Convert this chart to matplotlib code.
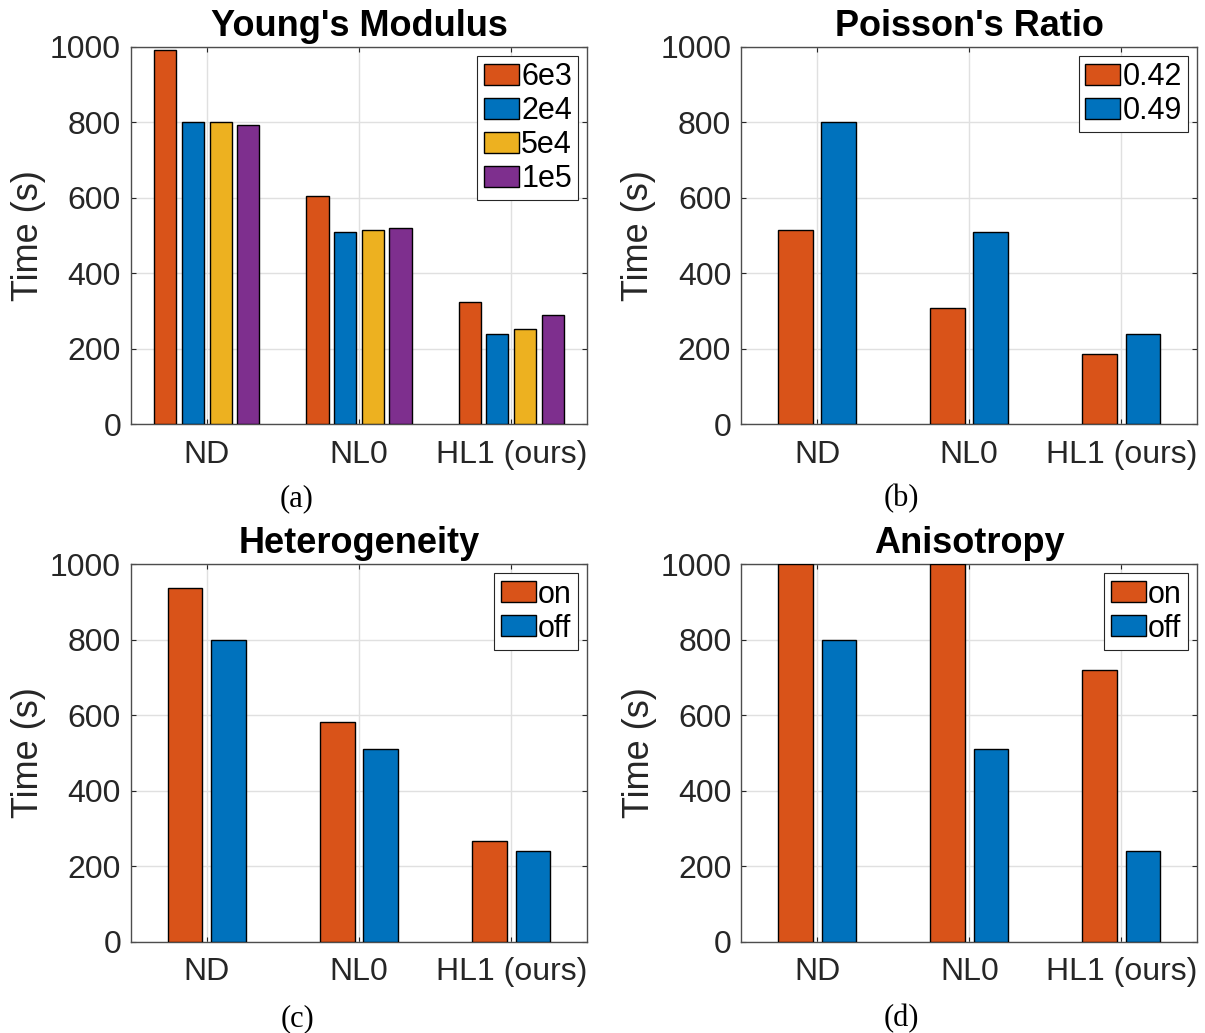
import matplotlib
matplotlib.use("Agg")
import matplotlib.pyplot as plt
import numpy as np

# Run times (s) per method, one list per setting
methods = ["ND", "NL0", "HL1 (ours)"]

youngs_labels = ["6e3", "2e4", "5e4", "1e5"]
youngs_times = [
    [990, 604, 325],
    [800, 510, 240],
    [800, 514, 253],
    [792, 521, 289],
]

poisson_labels = ["0.42", "0.49"]
poisson_times = [
    [515, 307, 185],
    [800, 510, 240],
]

hetero_labels = ["on", "off"]
hetero_times = [
    [938, 582, 267],
    [800, 510, 240],
]

# the first two "on" bars run past the top of the axis
aniso_labels = ["on", "off"]
aniso_times = [
    [1000, 1000, 721],
    [800, 510, 240],
]

# MATLAB default colour order
colors = ["#D95319", "#0072BD", "#EDB120", "#7E2F8E"]
text_color = "#262626"

plt.rcParams["font.family"] = ["Liberation Sans", "DejaVu Sans"]


def grouped_bar(ax, title, labels, series):
    """Draw a MATLAB-style grouped bar chart on ax."""
    x = np.arange(1, len(methods) + 1)
    n = len(series)
    group_width = min(0.8, n / (n + 1.5))
    step = group_width / n
    for i, (lab, vals) in enumerate(zip(labels, series)):
        offset = (i - (n - 1) / 2) * step
        ax.bar(x + offset, vals, width=step * 0.8, color=colors[i],
               edgecolor="black", linewidth=1.0, label=lab, zorder=3)

    ax.set_xlim(0.5, 3.5)
    ax.set_ylim(0, 1000)
    ax.set_xticks(x)
    ax.set_xticklabels(methods)
    ax.set_yticks(np.arange(0, 1001, 200))
    ax.tick_params(axis="both", direction="in", top=True, right=True,
                   length=3.5, width=0.8, labelsize=23, colors=text_color)
    ax.tick_params(axis="x", pad=11)
    ax.tick_params(axis="y", pad=7)
    ax.grid(True, color="#e0e0e0", linewidth=1.0)
    ax.set_axisbelow(True)
    for sp in ax.spines.values():
        sp.set_color("#4d4d4d")
        sp.set_linewidth(1.0)

    ax.set_title(title, fontsize=26, fontweight="bold", pad=8)
    ax.set_ylabel("Time (s)", fontsize=26, color=text_color)
    ax.yaxis.set_label_coords(-0.186, 0.5)

    leg = ax.legend(loc="upper right", fontsize=22, fancybox=False,
                    framealpha=1, edgecolor=text_color,
                    handlelength=1.15, handleheight=0.68, handletextpad=0.08,
                    labelspacing=0.13, borderpad=0.2, borderaxespad=0.3)
    leg.get_frame().set_linewidth(0.8)


fig = plt.figure(figsize=(12.05, 10.33), dpi=100)

ax_a = fig.add_axes([0.1085, 0.5893, 0.3789, 0.3655])
ax_b = fig.add_axes([0.6149, 0.5893, 0.3787, 0.3655])
ax_c = fig.add_axes([0.1085, 0.0884, 0.3789, 0.3653])
ax_d = fig.add_axes([0.6152, 0.0884, 0.3784, 0.3653])

grouped_bar(ax_a, "Young's Modulus", youngs_labels, youngs_times)
grouped_bar(ax_b, "Poisson's Ratio", poisson_labels, poisson_times)
grouped_bar(ax_c, "Heterogeneity", hetero_labels, hetero_times)
grouped_bar(ax_d, "Anisotropy", aniso_labels, aniso_times)

# sub-figure captions
for x, y, s in [(0.2465, 0.517, "(a)"), (0.748, 0.517, "(b)"),
                (0.2465, 0.0135, "(c)"), (0.748, 0.0135, "(d)")]:
    fig.text(x, y, s, ha="center", va="center", fontsize=22,
             family=["Liberation Serif", "DejaVu Serif"])

fig.savefig("out.png", dpi=100)
